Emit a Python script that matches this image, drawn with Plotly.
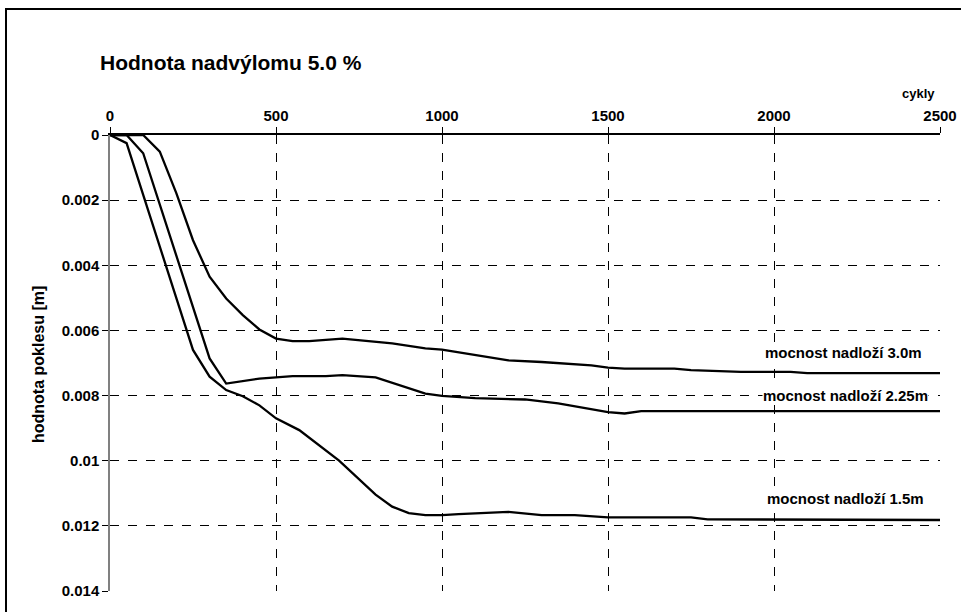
import plotly.graph_objects as go

# --- data ---
x_15 = [0, 50, 100, 250, 300, 350, 400, 450, 500, 570, 690, 800, 850, 900, 950, 1000, 1050,
        1200, 1300, 1400, 1500, 1750, 1800, 2000, 2050, 2500]
y_15 = [0, 0.00025, 0.00184, 0.0066, 0.00742, 0.00783, 0.00802, 0.0083, 0.0087, 0.00906,
        0.0100, 0.01104, 0.01141, 0.01161, 0.01167, 0.01167, 0.01164, 0.01157, 0.01167,
        0.01167, 0.01174, 0.01174, 0.0118, 0.0118, 0.01182, 0.01182]

x_225 = [0, 50, 100, 300, 350, 450, 550, 650, 700, 800, 950, 1000, 1100, 1250, 1350, 1500,
         1550, 1600, 2500]
y_225 = [0, 0, 0.00056, 0.00686, 0.00763, 0.00748, 0.0074, 0.0074, 0.00737, 0.00744,
         0.00794, 0.00801, 0.00808, 0.00812, 0.00824, 0.00851, 0.00855, 0.00848, 0.00848]

x_30 = [0, 100, 150, 200, 250, 300, 350, 400, 450, 500, 550, 600, 700, 800, 850, 950, 1000,
        1200, 1300, 1450, 1500, 1550, 1700, 1750, 1900, 2050, 2100, 2500]
y_30 = [0, 0, 0.00051, 0.00179, 0.00323, 0.00435, 0.00502, 0.00553, 0.00597, 0.00625,
        0.00633, 0.00633, 0.00625, 0.00635, 0.0064, 0.00655, 0.00659, 0.00692, 0.00697,
        0.00707, 0.00714, 0.00717, 0.00717, 0.00722, 0.00727, 0.00727, 0.00731, 0.00731]

series_names = ["mocnost nadloží 1.5m", "mocnost nadloží 2.25m", "mocnost nadloží 3.0m"]
label_x = [2215, 2215, 2210]
label_y = [0.01115, 0.00799, 0.00667]

x_ticks = [0, 500, 1000, 1500, 2000, 2500]
y_ticks = [0, 0.002, 0.004, 0.006, 0.008, 0.01, 0.012, 0.014]
y_tick_text = ["0", "0.002", "0.004", "0.006", "0.008", "0.01", "0.012", "0.014"]

FONT = "Liberation Sans, Arial, sans-serif"

# plot area in pixels
PL, PR, PT, PB = 110, 940, 135, 591
PW, PH = PR - PL, PB - PT


def px(xp):
    return (xp - PL) / PW


def py(yp):
    return (PB - yp) / PH


fig = go.Figure()
for xs, ys, nm in [(x_15, y_15, series_names[0]), (x_225, y_225, series_names[1]),
                   (x_30, y_30, series_names[2])]:
    fig.add_trace(go.Scatter(x=xs, y=ys, mode="lines", name=nm,
                             line=dict(color="black", width=2.3), showlegend=False))

annotations = []
for nm, lx, ly in zip(series_names, label_x, label_y):
    annotations.append(dict(x=lx, y=ly, xref="x", yref="y", text=nm, showarrow=False,
                            bgcolor="white", borderpad=0,
                            font=dict(family=FONT, size=15, color="black", weight="bold")))

annotations.append(dict(x=px(98), y=py(63), xref="paper", yref="paper",
                        text="Hodnota nadvýlomu 5.0 %", showarrow=False,
                        xanchor="left", yanchor="middle",
                        font=dict(family=FONT, size=21, color="black", weight="bold")))
annotations.append(dict(x=px(918), y=py(93), xref="paper", yref="paper",
                        text="cykly", showarrow=False,
                        xanchor="center", yanchor="middle",
                        font=dict(family=FONT, size=13, color="black", weight="bold")))
annotations.append(dict(x=px(38), y=py(365), xref="paper", yref="paper",
                        text="hodnota poklesu [m]", showarrow=False, textangle=-90,
                        xanchor="center", yanchor="middle",
                        font=dict(family=FONT, size=16, color="black", weight="bold")))

fig.update_layout(
    width=961, height=612,
    margin=dict(l=PL, r=961 - PR, t=PT, b=612 - PB, autoexpand=False),
    paper_bgcolor="white", plot_bgcolor="white",
    annotations=annotations,
    shapes=[dict(type="rect", xref="paper", yref="paper",
                 x0=px(6), x1=px(1000), y0=py(650), y1=py(9),
                 line=dict(color="black", width=2), layer="below")],
)
fig.update_xaxes(
    range=[0, 2500], side="top", tickvals=x_ticks, ticktext=[str(v) for v in x_ticks],
    showgrid=True, gridcolor="black", griddash="dash", gridwidth=1,
    showline=True, linecolor="black", linewidth=1.5, mirror=False,
    ticks="outside", ticklen=6, tickcolor="black",
    tickfont=dict(family=FONT, size=15, color="black", weight="bold"),
    zeroline=False,
)
fig.update_yaxes(
    range=[0.014, 0], tickvals=y_ticks, ticktext=y_tick_text,
    showgrid=True, gridcolor="black", griddash="dash", gridwidth=1,
    showline=True, linecolor="#808080", linewidth=1.5,
    ticks="outside", ticklen=6, tickcolor="black",
    tickfont=dict(family=FONT, size=15, color="black", weight="bold"),
    zeroline=False,
)

fig.write_html("out.html", config={"displayModeBar": False},
               post_script="document.body.style.margin='0';")
